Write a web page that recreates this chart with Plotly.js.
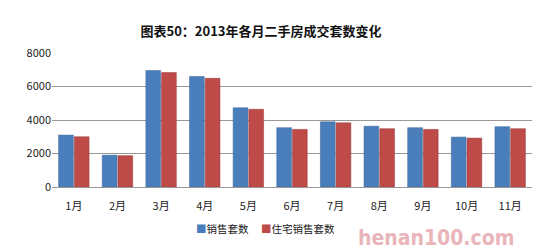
<!DOCTYPE html>
<html><head><meta charset="utf-8">
<script src="https://cdn.plot.ly/plotly-3.0.1.min.js"></script>
<style>body{margin:0;background:#fff}#c{width:550px;height:251px}</style>
</head><body><div id="c"></div>
<script>
const months = ["1月","2月","3月","4月","5月","6月","7月","8月","9月","10月","11月"];
const sales = [3100, 1900, 6950, 6600, 4730, 3540, 3890, 3630, 3540, 2980, 3600];
const residential = [3000, 1870, 6830, 6490, 4640, 3440, 3830, 3480, 3440, 2920, 3480];
const seriesNames = ["销售套数", "住宅销售套数"];
const colors = ["#4a7ebb", "#be4b48"];
const yTicks = [0, 2000, 4000, 6000, 8000];

const font = "'Noto Sans CJK SC', 'Noto Sans', sans-serif";
const T = 53, B = 187, L = 52, W = 480;
const px = x => (x - L) / W, py = y => (B - y) / (B - T);
const data = [
  {type:"bar", x: months, y: sales, name: seriesNames[0], marker:{color:colors[0], line:{color:"#3b6496", width:0.5}}},
  {type:"bar", x: months, y: residential, name: seriesNames[1], marker:{color:colors[1], line:{color:"#98393a", width:0.5}}}
];
const legendAnn = [
  {text:'<span style="color:'+colors[0]+'">■</span>'+seriesNames[0], x:194},
  {text:'<span style="color:'+colors[1]+'">■</span>'+seriesNames[1], x:259}
].map(a => ({text:a.text, xref:"paper", yref:"paper", x:px(a.x), y:py(228), xanchor:"left", yanchor:"middle", showarrow:false, font:{family:font, size:10.5, color:"#222"}}));
const layout = {
  width:550, height:251,
  margin:{l:52, r:18, t:53, b:64},
  paper_bgcolor:"#fff", plot_bgcolor:"#fff",
  font:{family:font, size:11, color:"#222"},
  title:{text:"<b>图表50：2013年各月二手房成交套数变化</b>", xref:"container", x:261/550, xanchor:"center", yref:"container", y:1-31/251, yanchor:"middle", font:{family:font, size:13, color:"#111"}},
  bargap:0.28, bargroupgap:0.06,
  xaxis:{showgrid:false, showline:true, linecolor:"#999", ticks:"", tickfont:{size:11}, ticklabelstandoff:9},
  yaxis:{range:[0,8000], tickvals:yTicks, showgrid:true, gridcolor:"#999", gridwidth:1, zeroline:false, showline:false, ticks:"", tickfont:{size:11}, ticksuffix:"   "},
  showlegend:false,
  annotations: legendAnn.concat([{text:"<b>henan100.com</b>", xref:"paper", yref:"paper", x:px(516), y:py(238), xanchor:"right", yanchor:"middle", showarrow:false, font:{family:"'DejaVu Sans Condensed', 'Liberation Sans Narrow', sans-serif", size:21, color:"#e9b5ba"}}])
};
Plotly.newPlot("c", data, layout, {displayModeBar:false, staticPlot:true});
</script></body></html>
